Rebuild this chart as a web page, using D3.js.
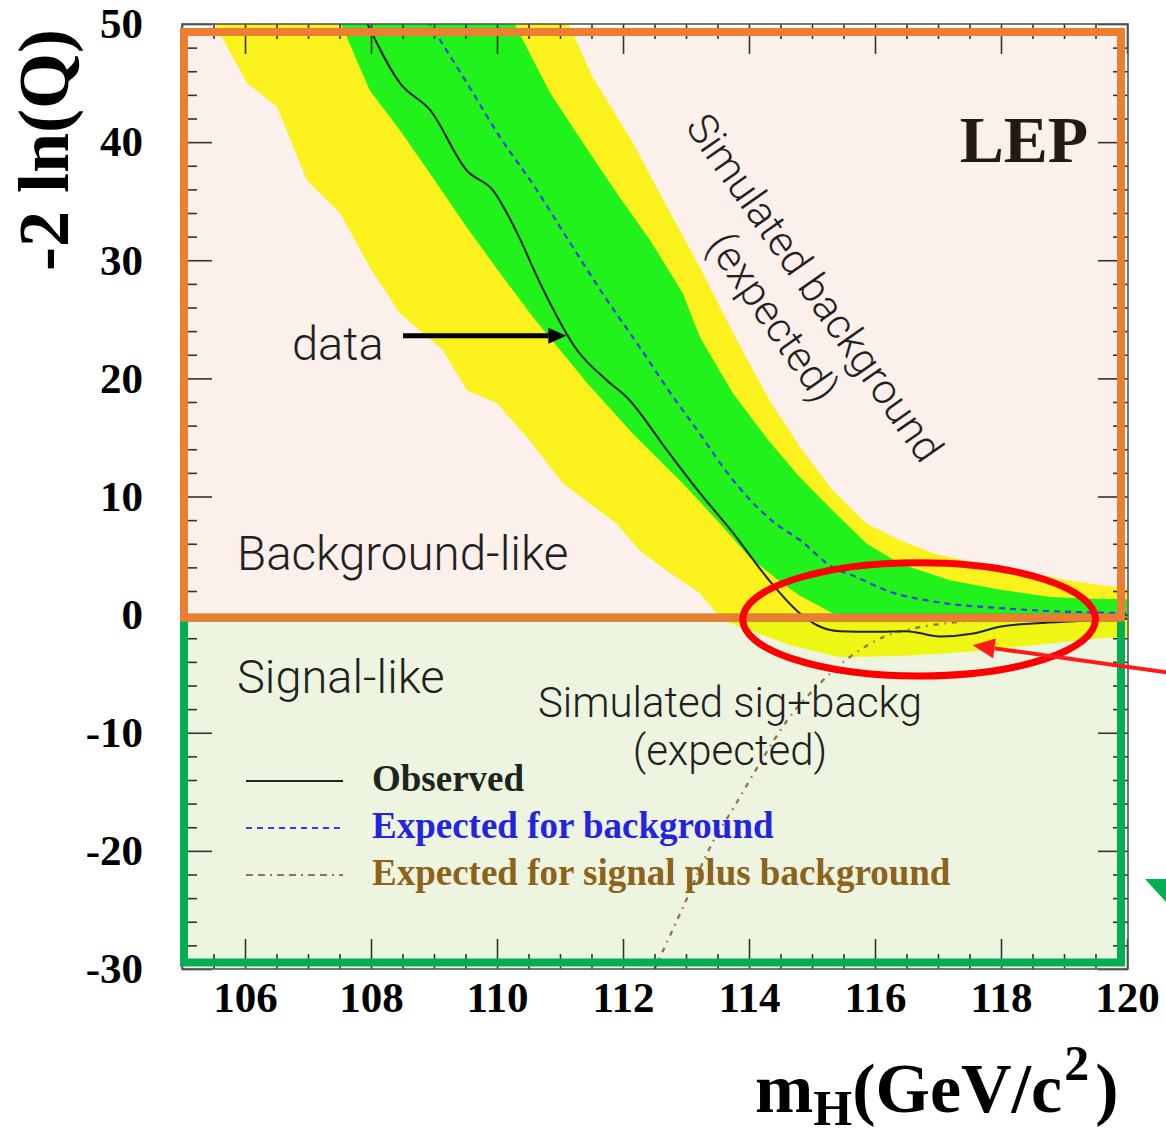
<!DOCTYPE html>
<html>
<head>
<meta charset="utf-8">
<script src="https://cdn.jsdelivr.net/npm/d3@7"></script>
<style>
  body { margin: 0; background: #fff; }
  svg { display: block; }
  .serif { font-family: "Liberation Serif", "Times New Roman", serif; font-weight: bold; }
  .sans { font-family: "Roboto", "Helvetica Neue", Arial, sans-serif; font-weight: 300; fill: #231f20; }
  .tick line { stroke: #333; stroke-width: 1.6; }
</style>
</head>
<body>
<svg id="chart" width="1166" height="1138"></svg>
<script>
// ---------- axis ticks ----------
const xTicks = [106, 108, 110, 112, 114, 116, 118, 120];
const yTicks = [-30, -20, -10, 0, 10, 20, 30, 40, 50];
const xMinor = d3.range(105, 120.01, 0.5).filter(v => !xTicks.includes(v));
const yMinor = d3.range(-30, 50.01, 2).filter(v => !yTicks.includes(v));

// ---------- observed -2lnQ ----------
const obsMass = [107.90, 108.46, 108.94, 109.52, 109.94, 110.32, 110.68, 111.27, 111.75, 112.06,
                 112.70, 113.22, 113.75, 114.29, 114.81, 115.08, 115.44, 116.0, 116.5, 117.03,
                 117.56, 118.0, 118.5, 119.0, 119.57, 120.0];
const obsLnQ  = [50.5, 45.0, 42.7, 37.6, 35.9, 32.3, 28.1, 22.4, 19.8, 18.4,
                 13.9, 10.3, 6.9, 3.1, 0.1, -0.9, -1.4, -1.45, -1.4, -1.85,
                 -1.6, -1.0, -0.75, -0.6, -0.45, -0.35];

// ---------- expected for background ----------
const expBMass = [108.9, 109.5, 110.05, 110.6, 111.11, 111.7, 112.27, 112.8, 113.22, 113.6,
                  114.02, 114.4, 114.81, 115.33, 115.7, 116.2, 117.0, 118.0, 119.0, 120.0];
const expBLnQ  = [50.3, 45.2, 40.4, 36.2, 31.9, 27.0, 22.6, 18.4, 15.3, 12.4,
                  9.7, 7.8, 6.3, 4.0, 3.2, 2.0, 1.05, 0.55, 0.25, 0.13];

// ---------- expected for signal plus background ----------
const expSBMass = [112.5, 112.95, 113.43, 113.75, 114.17, 114.6, 115.13, 115.6, 116.13, 116.67,
                   117.19, 117.98, 119.0, 120.0];
const expSBLnQ  = [-30.0, -24.8, -19.2, -16.4, -12.6, -9.0, -5.8, -3.6, -1.9, -1.1,
                   -0.7, -0.3, -0.15, -0.1];

// ---------- 1 sigma band (background) ----------
const band1LowMass = [107.5, 107.98, 108.46, 108.98, 109.52, 110.05, 110.57, 111.0, 111.43, 112.16,
                      112.95, 113.49, 114.02, 114.54, 114.81, 115.37, 115.9, 117.0, 118.0, 119.0, 120.0];
const band1LowLnQ  = [50.3, 44.4, 41.0, 37.0, 32.8, 28.9, 25.2, 22.4, 19.6, 15.3,
                      11.1, 8.0, 4.8, 2.6, 1.6, 0.0, -0.4, -0.5, -0.45, -0.4, -0.35];
const band1UpMass  = [110.25, 110.84, 111.37, 111.90, 112.43, 112.95, 113.22, 113.75, 114.3, 114.81,
                      115.33, 115.87, 116.40, 117.19, 118.0, 118.78, 119.5, 120.0];
const band1UpLnQ   = [50.3, 44.2, 39.9, 35.7, 31.7, 27.2, 23.5, 18.7, 14.8, 11.6,
                      8.8, 6.0, 4.3, 2.9, 2.1, 1.5, 1.35, 1.3];

// ---------- 2 sigma band (background) ----------
const band2LowMass = [105.49, 106.03, 106.51, 106.98, 107.51, 107.98, 108.46, 109.14, 109.52, 110.0,
                      110.48, 111.05, 111.9, 112.27, 112.7, 113.22, 113.49, 113.7, 114.65, 115.44,
                      116.4, 117.35, 118.14, 119.57, 120.0];
const band2LowLnQ  = [50.3, 45.0, 43.0, 36.8, 34.0, 29.4, 25.5, 22.4, 19.0, 17.9,
                      15.0, 11.1, 7.7, 5.4, 3.7, 1.8, 0.1, -0.7, -2.6, -3.6,
                      -3.5, -3.2, -2.8, -2.0, -1.9];
const band2UpMass  = [111.11, 111.52, 112.16, 112.70, 113.22, 113.81, 114.33, 114.81, 115.33, 115.87,
                      116.40, 116.92, 117.5, 118.0, 119.05, 120.0];
const band2UpLnQ   = [50.3, 45.5, 39.9, 34.5, 29.4, 23.2, 18.1, 14.2, 10.5, 7.7,
                      6.3, 5.2, 4.5, 4.0, 2.9, 2.2];

// ---------- legend ----------
const legendLabels = ["Observed", "Expected for background", "Expected for signal plus background"];
const legendColors = ["#1c261c", "#2323e0", "#8d6219"];

// ---------- layout ----------
const svg = d3.select("#chart");
const x = d3.scaleLinear().domain([105, 120]).range([182, 1127]);
const y = d3.scaleLinear().domain([-30, 50]).range([969, 24]);
const [X0, X1] = [182, 1128], [Y0, Y1] = [24, 969];
const zeroY = y(0);

const defs = svg.append("defs");
defs.append("clipPath").attr("id", "plotClip").append("rect")
  .attr("x", X0).attr("y", Y0).attr("width", X1 - X0).attr("height", Y1 - Y0);
defs.append("clipPath").attr("id", "upClip").append("rect")
  .attr("x", X0).attr("y", Y0).attr("width", X1 - X0).attr("height", zeroY - Y0);
defs.append("clipPath").attr("id", "downClip").append("rect")
  .attr("x", X0).attr("y", zeroY).attr("width", X1 - X0).attr("height", Y1 - zeroY);

// region boxes: background-like (upper) and signal-like (lower)
const boxL = 184, boxR = 1121, boxT = 32, boxMid = zeroY + 3, boxB = 962.5;
svg.append("rect").attr("x", boxL).attr("y", boxT).attr("width", boxR - boxL).attr("height", boxMid - boxT)
  .attr("fill", "#fbf0eb");
svg.append("rect").attr("x", boxL).attr("y", boxMid).attr("width", boxR - boxL).attr("height", boxB - boxMid)
  .attr("fill", "#edf5e1");

// bands
const zip = (m, q) => m.map((v, i) => [v, q[i]]);
const line = d3.line().x(d => x(d[0])).y(d => y(d[1]));
function bandPoly(lowM, lowQ, upM, upQ) {
  return line(zip(lowM, lowQ).concat(zip(upM, upQ).reverse())) + "Z";
}
const band2 = bandPoly(band2LowMass, band2LowLnQ, band2UpMass, band2UpLnQ);
const band1 = bandPoly(band1LowMass, band1LowLnQ, band1UpMass, band1UpLnQ);

const plot = svg.append("g").attr("clip-path", "url(#plotClip)");
plot.append("g").attr("clip-path", "url(#upClip)").append("path").attr("d", band2).attr("fill", "#fbf11c");
plot.append("g").attr("clip-path", "url(#downClip)").append("path").attr("d", band2).attr("fill", "#eef614");
plot.append("path").attr("d", band1).attr("fill", "#22f21c");

// curves
const curve = d3.line().x(d => x(d[0])).y(d => y(d[1])).curve(d3.curveMonotoneX);
plot.append("path").attr("d", curve(zip(expBMass, expBLnQ)))
  .attr("fill", "none").attr("stroke", "#3a3ae6").attr("stroke-width", 2.2).attr("stroke-dasharray", "6,5");
plot.append("path").attr("d", curve(zip(expSBMass, expSBLnQ)))
  .attr("fill", "none").attr("stroke", "#9a7444").attr("stroke-width", 2.4).attr("stroke-dasharray", "5,6,1.5,6");
plot.append("path").attr("d", curve(zip(obsMass, obsLnQ)))
  .attr("fill", "none").attr("stroke", "#222").attr("stroke-width", 2);

// axes
const noLabel = () => "";
const axisG = svg.append("g").attr("class", "axes");
axisG.append("g").attr("transform", `translate(${X0},0)`)
  .call(d3.axisLeft(y).tickValues(yTicks).tickSize(-30).tickPadding(39).tickFormat(d => String(d)))
  .call(g => g.select(".domain").remove())
  .call(g => g.selectAll("text").attr("class", "serif").attr("font-size", 43).attr("fill", "#000"));
axisG.append("g").attr("transform", `translate(${X0},0)`)
  .call(d3.axisLeft(y).tickValues(yMinor).tickSize(-15).tickFormat(noLabel))
  .call(g => g.select(".domain").remove());
axisG.append("g").attr("transform", `translate(${X1},0)`)
  .call(d3.axisRight(y).tickValues(yTicks).tickSize(-30).tickFormat(noLabel))
  .call(g => g.select(".domain").remove());
axisG.append("g").attr("transform", `translate(${X1},0)`)
  .call(d3.axisRight(y).tickValues(yMinor).tickSize(-15).tickFormat(noLabel))
  .call(g => g.select(".domain").remove());
axisG.append("g").attr("transform", `translate(0,${Y1})`)
  .call(d3.axisBottom(x).tickValues(xTicks).tickSize(-30).tickPadding(12).tickFormat(d => String(d)))
  .call(g => g.select(".domain").remove())
  .call(g => g.selectAll("text").attr("class", "serif").attr("font-size", 43).attr("fill", "#000"));
axisG.append("g").attr("transform", `translate(0,${Y1})`)
  .call(d3.axisBottom(x).tickValues(xMinor).tickSize(-15).tickFormat(noLabel))
  .call(g => g.select(".domain").remove());
axisG.append("g").attr("transform", `translate(0,${Y0})`)
  .call(d3.axisTop(x).tickValues(xTicks).tickSize(-30).tickFormat(noLabel))
  .call(g => g.select(".domain").remove());
axisG.append("g").attr("transform", `translate(0,${Y0})`)
  .call(d3.axisTop(x).tickValues(xMinor).tickSize(-15).tickFormat(noLabel))
  .call(g => g.select(".domain").remove());
axisG.selectAll(".tick text").attr("font-family", null);

// frame
svg.append("rect").attr("x", X0).attr("y", Y0).attr("width", X1 - X0).attr("height", Y1 - Y0)
  .attr("fill", "none").attr("stroke", "#555").attr("stroke-width", 1.6);

// region outlines
svg.append("rect").attr("x", boxL).attr("y", boxMid).attr("width", boxR - boxL).attr("height", boxB - boxMid)
  .attr("fill", "none").attr("stroke", "#00b050").attr("stroke-width", 8);
svg.append("rect").attr("x", boxL).attr("y", boxT).attr("width", boxR - boxL).attr("height", boxMid - boxT)
  .attr("fill", "none").attr("stroke", "#ed7d31").attr("stroke-width", 8);

// axis titles
svg.append("text").attr("class", "serif").attr("font-size", 72).attr("text-anchor", "middle")
  .attr("transform", "translate(68,150) rotate(-90)").text("-2 ln(Q)");
const xt = svg.append("text").attr("class", "serif").attr("font-size", 70).attr("x", 755).attr("y", 1112);
xt.append("tspan").text("m");
xt.append("tspan").attr("dy", 13).attr("font-size", 50).text("H");
xt.append("tspan").attr("dy", -13).text("(GeV/c");
xt.append("tspan").attr("dy", -32).attr("dx", 2).attr("font-size", 50).text("2");
xt.append("tspan").attr("dy", 32).attr("dx", 6).text(")");

// experiment tag
svg.append("text").attr("class", "serif").attr("font-size", 66).attr("fill", "#231a10")
  .attr("text-anchor", "end").attr("x", 1088).attr("y", 162).text("LEP");

// legend
const legend = svg.append("g");
const legendDash = [null, "6,5", "7,5,7,5,2,5"];
const legendLine = ["#222", "#3a3ae6", "#9a7444"];
legendLabels.forEach((lab, i) => {
  const ly = 781 + i * 47;
  legend.append("line").attr("x1", 246).attr("x2", 343).attr("y1", ly).attr("y2", ly)
    .attr("stroke", legendLine[i]).attr("stroke-width", 2).attr("stroke-dasharray", legendDash[i]);
  legend.append("text").attr("class", "serif").attr("font-size", 37).attr("fill", legendColors[i])
    .attr("x", 372).attr("y", ly + 10).text(lab);
});

// annotations
function arrow(x1, y1, x2, y2, w, headLen, headW, color) {
  const a = Math.atan2(y2 - y1, x2 - x1), c = Math.cos(a), s = Math.sin(a);
  const bx = x2 - headLen * c, by = y2 - headLen * s;
  svg.append("line").attr("x1", x1).attr("y1", y1).attr("x2", bx).attr("y2", by)
    .attr("stroke", color).attr("stroke-width", w);
  svg.append("polygon").attr("fill", color).attr("points",
    [[x2, y2], [bx - headW / 2 * s, by + headW / 2 * c], [bx + headW / 2 * s, by - headW / 2 * c]]
      .map(p => p.join(",")).join(" "));
}

svg.append("text").attr("class", "sans").attr("font-size", 47).attr("x", 292).attr("y", 360).text("data");
arrow(403, y(23.6), x(111.1), y(23.6), 5, 18, 16, "#000");

svg.append("text").attr("class", "sans").attr("font-size", 47.5).attr("x", 237).attr("y", 570).text("Background-like");
svg.append("text").attr("class", "sans").attr("font-size", 47).attr("x", 237).attr("y", 693).text("Signal-like");

svg.append("text").attr("class", "sans").attr("font-size", 42).attr("text-anchor", "middle")
  .attr("x", 730).attr("y", 717).text("Simulated sig+backg");
svg.append("text").attr("class", "sans").attr("font-size", 42).attr("text-anchor", "middle")
  .attr("x", 730).attr("y", 765).text("(expected)");

const rot = svg.append("g").attr("transform", "translate(803,296) rotate(55)");
rot.append("text").attr("class", "sans").attr("font-size", 42).attr("text-anchor", "middle")
  .attr("x", 0).attr("y", 0).text("Simulated background");
rot.append("text").attr("class", "sans").attr("font-size", 42).attr("text-anchor", "middle")
  .attr("x", 0).attr("y", 51).text("(expected)");

// highlight of the low-mass crossing region
svg.append("ellipse").attr("cx", x(116.7)).attr("cy", y(-0.4))
  .attr("rx", x(116.7) - x(113.9)).attr("ry", y(-5.2) - y(-0.4))
  .attr("fill", "none").attr("stroke", "#ff0000").attr("stroke-width", 7);
arrow(1172, 673, x(117.55), y(-2.6), 4, 22, 20, "#ff1a1a");

// pointer toward the signal-like box
svg.append("polygon").attr("fill", "#00b050").attr("points", "1145,879 1166,879 1166,902");
</script>
</body>
</html>
